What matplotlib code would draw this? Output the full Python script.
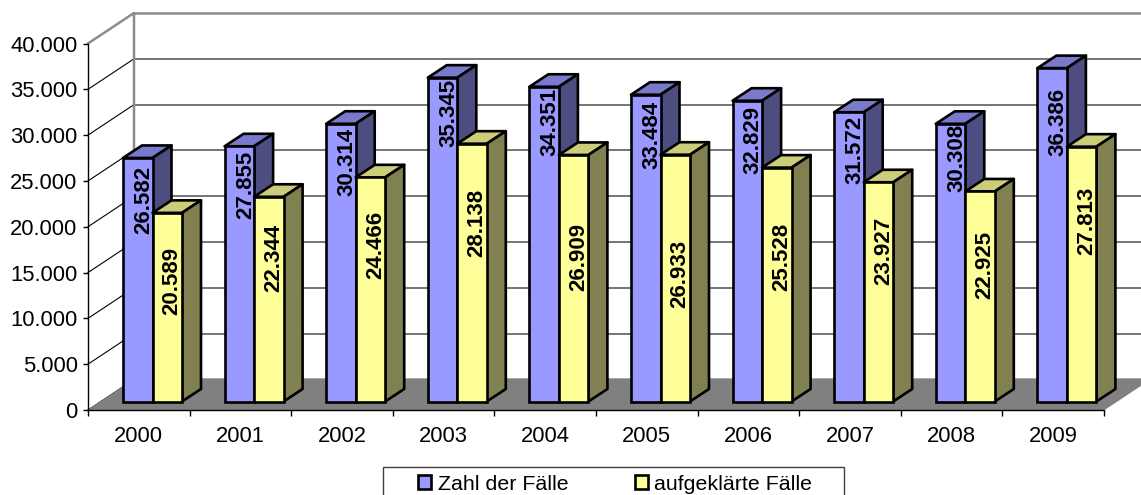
import matplotlib
matplotlib.use('Agg')
import matplotlib.pyplot as plt
from matplotlib.patches import Polygon, Patch, Rectangle

plt.rcParams['font.family'] = ['Liberation Sans', 'DejaVu Sans']

years = ['2000', '2001', '2002', '2003', '2004', '2005', '2006', '2007', '2008', '2009']
faelle = [26582, 27855, 30314, 35345, 34351, 33484, 32829, 31572, 30308, 36386]
aufgeklaert = [20589, 22344, 24466, 28138, 26909, 26933, 25528, 23927, 22925, 27813]
y_ticks = [0, 5000, 10000, 15000, 20000, 25000, 30000, 35000, 40000]

# where the rotated value labels sit, in value units (excel put them oddly)
faelle_label_y = [22920, 24560, 27070, 32415, 31430, 30015, 29470, 28380, 27500, 31430]
aufgeklaert_label_y = [14080, 16590, 18010, 20410, 16700, 14840, 16700, 17350, 15830, 20630]

W, H = 1141, 495
X_PX = 101.6        # pixels per category
Y_PX = 366.5 / 40000  # pixels per value unit


def px_x(p):
    return p / X_PX


def px_y(p):
    return p / Y_PX


def fmt(v):
    return f'{v:,}'.replace(',', '.')


wall_dx, wall_dy = px_x(46), px_y(30.5)
bar_dx, bar_dy = px_x(19), px_y(12.5)
bar_w = px_x(29.5)
bar_start = px_x(35)
base = px_y(8.5)
edge_lw = 1.9

fig = plt.figure(figsize=(W / 100, H / 100), dpi=100)
ax = fig.add_axes([88 / W, (H - 410) / H, 1016 / W, 366.5 / H])
ax.set_xlim(0, 10)
ax.set_ylim(0, 40000)
ax.patch.set_visible(False)
for s in ['top', 'right']:
    ax.spines[s].set_visible(False)
for s in ['left', 'bottom']:
    ax.spines[s].set_linewidth(1.0)
    ax.spines[s].set_zorder(50)

# walls and gridlines
for t in y_ticks[:-1]:
    ax.plot([0, wall_dx], [t, t + wall_dy], color='black', lw=0.8, clip_on=False, zorder=1)
    ax.plot([wall_dx, 10 + wall_dx], [t + wall_dy, t + wall_dy], color='#505050', lw=1.1, clip_on=False, zorder=1)
ax.plot([0, wall_dx, wall_dx, 10 + wall_dx], [40000, 40000 + wall_dy, wall_dy, wall_dy],
        color='#8c8c8c', lw=1.8, clip_on=False, zorder=1)
ax.plot([wall_dx, 10 + wall_dx], [40000 + wall_dy, 40000 + wall_dy], color='#8c8c8c', lw=1.8,
        clip_on=False, zorder=1)

# floor
ax.add_patch(Polygon([(0, 0), (10, 0), (10 + wall_dx, wall_dy), (wall_dx, wall_dy)],
                     fc='#808080', ec='#808080', lw=0.5, clip_on=False, zorder=2))


def draw_bar(x, v, front, top, side, z):
    y1 = v + base
    ax.add_patch(Polygon([(x, y1), (x + bar_w, y1), (x + bar_w + bar_dx, y1 + bar_dy), (x + bar_dx, y1 + bar_dy)],
                         fc=top, ec='black', lw=edge_lw, joinstyle='round', clip_on=False, zorder=z))
    ax.add_patch(Polygon([(x + bar_w, base), (x + bar_w + bar_dx, base + bar_dy),
                          (x + bar_w + bar_dx, y1 + bar_dy), (x + bar_w, y1)],
                         fc=side, ec='black', lw=edge_lw, joinstyle='round', clip_on=False, zorder=z))
    ax.bar(x, v, width=bar_w, bottom=base, align='edge', color=front, edgecolor='black', lw=edge_lw,
           clip_on=False, zorder=z + 0.1)


for i in range(len(years)):
    x1 = i + bar_start
    x2 = x1 + bar_w
    draw_bar(x1, faelle[i], '#9999FF', '#7A7ACC', '#4D4D80', 10 + i)
    draw_bar(x2, aufgeklaert[i], '#FFFF99', '#CCCC7A', '#808050', 10.5 + i)
    ax.text(x1 + bar_w / 2 + px_x(6), faelle_label_y[i], fmt(faelle[i]), rotation=90, ha='center', va='center',
            fontsize=16, fontweight='bold', color='black', zorder=40)
    ax.text(x2 + bar_w / 2 + px_x(5), aufgeklaert_label_y[i], fmt(aufgeklaert[i]), rotation=90, ha='center',
            va='center', fontsize=16, fontweight='bold', color='black', zorder=40)

# axes ticks
ax.set_yticks(y_ticks)
ax.set_yticklabels([fmt(t) for t in y_ticks], fontsize=15.8)
ax.tick_params(axis='y', length=3.5, width=1.0, pad=4)
ax.set_xticks(range(11))
ax.set_xticklabels([])
ax.tick_params(axis='x', which='major', length=4, width=1.0)
ax.set_xticks([i + 0.5 for i in range(10)], minor=True)
ax.set_xticklabels(years, minor=True, fontsize=15.8)
ax.tick_params(axis='x', which='minor', length=0, pad=11.5)

# legend box runs off the bottom of the picture
fig.add_artist(Rectangle((383 / W, -5 / H), 461 / W, 33 / H, transform=fig.transFigure,
                         fc='white', ec='#404040', lw=1.0, clip_on=True))
handles = [Patch(fc='#9999FF', ec='black', lw=1.9, label='Zahl der Fälle'),
           Patch(fc='#FFFF99', ec='black', lw=1.9, label='aufgeklärte Fälle')]
fig.legend(handles=handles, loc='center left', bbox_to_anchor=(418 / W, 1 - 484 / H), ncol=2, frameon=False,
           fontsize=15.4, handlelength=0.62, handleheight=0.62, handletextpad=0.3, columnspacing=3.1,
           borderpad=0, borderaxespad=0)

fig.savefig('out.png', dpi=100)
